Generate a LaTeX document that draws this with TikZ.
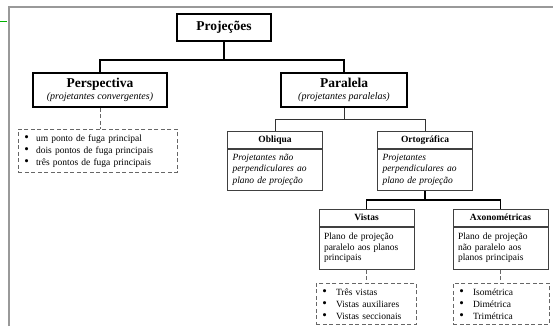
\documentclass[tikz,border=0pt]{standalone}
\usepackage{fontspec}
\setmainfont{Liberation Serif}
\usetikzlibrary{positioning}

\newcommand{\listdot}{{\fontsize{13}{12}\selectfont\textbullet}}

\begin{document}
\begin{tikzpicture}[
  x=1pt, y=-1pt,
  main box/.style={draw, line width=1.6pt, align=center, inner sep=1pt},
  head box/.style={draw=black!75, line width=1pt, minimum width=95pt, minimum height=16.5pt,
    inner sep=1pt, font=\fontsize{9.5}{11}\selectfont\bfseries},
  body box/.style={draw=black!75, line width=1pt, text width=85pt, align=left,
    inner xsep=5pt, inner ysep=2pt, anchor=north},
  list box/.style={draw=black!60, dash pattern=on 4pt off 2.5pt, line width=0.9pt,
    align=left, anchor=north west, inner xsep=6pt, inner ysep=2pt,
    font=\fontsize{9.5}{12}\selectfont},
  tree line/.style={line width=1.6pt},
  thin line/.style={line width=0.8pt, black!80},
  dash line/.style={dash pattern=on 4pt off 2.5pt, line width=0.9pt, black!60}]

  \useasboundingbox (0,0) rectangle (553,326);

  % frame of the page
  \draw[black!40, line width=2.2pt] (9,326) -- (9,7) -- (553,7);
  \draw[green!70!black, line width=0.8pt] (0,21) -- (7,21);

  % top levels
  \node[main box, minimum width=94pt, minimum height=27pt,
    font=\fontsize{13.5}{15}\selectfont\bfseries] (proj) at (224,27.5) {Projeções};
  \node[main box, minimum width=134pt, minimum height=34pt] (persp) at (100,90)
    {{\fontsize{13.5}{14}\selectfont\bfseries Perspectiva}\\
     {\fontsize{10}{11}\selectfont\itshape (projetantes convergentes)}};
  \node[main box, minimum width=126pt, minimum height=34pt] (paral) at (344,90)
    {{\fontsize{13.5}{14}\selectfont\bfseries Paralela}\\
     {\fontsize{10}{11}\selectfont\itshape (projetantes paralelas)}};

  % parallel projections
  \node[head box] (obl) at (275,140) {Obliqua};
  \node[body box, minimum height=41pt, font=\fontsize{9.5}{11.5}\selectfont\itshape]
    (obl body) at (obl.south) {Projetantes não\\perpendiculares ao\\plano de projeção};
  \node[head box] (orto) at (425,140) {Ortográfica};
  \node[body box, minimum height=41pt, font=\fontsize{9.5}{11.5}\selectfont\itshape]
    (orto body) at (orto.south) {Projetantes\\perpendiculares ao\\plano de projeção};

  % orthographic projections
  \node[head box, minimum height=17pt] (vis) at (366.5,217.5) {Vistas};
  \node[body box, minimum height=42pt, font=\fontsize{9.5}{10.5}\selectfont]
    (vis body) at (vis.south) {Plano de projeção\\paralelo aos planos\\principais};
  \node[head box, minimum height=17pt] (axo) at (500.5,217.5) {Axonométricas};
  \node[body box, minimum height=42pt, font=\fontsize{9.5}{10.5}\selectfont]
    (axo body) at (axo.south) {Plano de projeção\\não paralelo aos\\planos principais};

  % lists
  \node[list box, text width=147pt, minimum height=43pt] (persp list) at (18,129)
    {\listdot\hspace{7pt}um ponto de fuga principal\\
     \listdot\hspace{7pt}dois pontos de fuga principais\\
     \listdot\hspace{7pt}três pontos de fuga principais};
  \node[list box, text width=88pt, minimum height=41pt] (vis list) at (316,283)
    {\listdot\hspace{9pt}Três vistas\\
     \listdot\hspace{9pt}Vistas auxiliares\\
     \listdot\hspace{9pt}Vistas seccionais};
  \node[list box, text width=84pt, minimum height=41pt] (axo list) at (453,283)
    {\listdot\hspace{9pt}Isométrica\\
     \listdot\hspace{9pt}Dimétrica\\
     \listdot\hspace{9pt}Trimétrica};

  % connectors
  \draw[tree line] (proj.south) -- ++(0,18) coordinate (proj split) -| (persp.north);
  \draw[tree line] (proj split) -| (paral.north);
  \draw[thin line] (paral.south) -- ++(0,12) coordinate (paral split) -| (obl.north);
  \draw[thin line] (paral split) -| (orto.north);
  \draw[tree line] (orto body.south) -- ++(0,9) coordinate (orto split) -| (vis.north);
  \draw[tree line] (orto split) -| (axo.north);
  \draw[dash line] (persp.south) -- (persp.south |- persp list.north);
  \draw[dash line] (vis body.south) -- (vis body.south |- vis list.north);
  \draw[dash line] (axo body.south) -- (axo body.south |- axo list.north);
\end{tikzpicture}
\end{document}
